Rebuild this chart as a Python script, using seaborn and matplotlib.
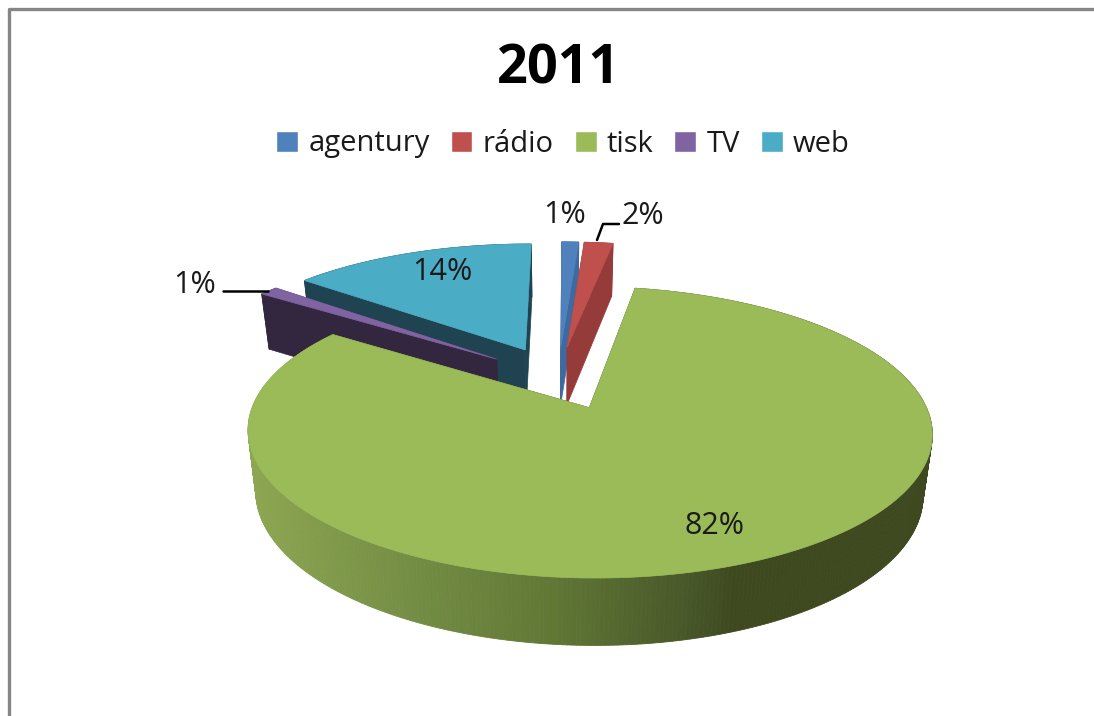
import numpy as np
import seaborn as sns
import matplotlib.pyplot as plt
from matplotlib.patches import Patch

# values
categories = ["agentury", "rádio", "tisk", "TV", "web"]
shares = [1.0, 1.7, 81.8, 1.1, 14.4]
chart_title = "2011"

colors = ["#4F81BD", "#C0504D", "#9BBB59", "#8064A2", "#4BACC6"]
dark_colors = ["#3F6A9F", "#953B39", "#3F4A20", "#33263F", "#1F4350"]

sns.set_theme(style="white")
plt.rcParams["font.family"] = ["Open Sans", "DejaVu Sans"]

# projection of the tilted pie, fitted to the picture (pixels)
CX, CY, RX, RY, PERSP = 558, 377.5, 325, 131.5, 0.163
EXPLODE = 0.24
DEPTH = 59
START = 0.3


def project(u, v, bottom=False):
    w = 1 + PERSP * v
    x = CX + RX * u / w
    y = CY - RY * v / w
    if bottom:
        x = CX + (x - CX) * 0.975
        y = y + DEPTH / w ** 0.6
    return x, y


def rim_color(x):
    # rim shading of the big slice runs left to right
    stops = [250, 400, 550, 690, 735, 930]
    rgb = [(0.55, 0.65, 0.32), (0.46, 0.56, 0.27), (0.38, 0.47, 0.21),
           (0.28, 0.34, 0.16), (0.245, 0.285, 0.125), (0.245, 0.285, 0.125)]
    return tuple(np.interp(x, stops, [c[i] for c in rgb]) for i in range(3))


def draw_slice(ax, a0, a1, top, dark, gradient=False):
    mid = np.radians((a0 + a1) / 2)
    ou, ov = EXPLODE * np.sin(mid), EXPLODE * np.cos(mid)
    t = np.radians(np.linspace(a0, a1, max(4, int((a1 - a0) * 1.5))))
    u = ou + np.sin(t)
    v = ov + np.cos(t)
    xt, yt = project(u, v)
    xb, yb = project(u, v, bottom=True)
    ax_t, ay_t = project(ou, ov)
    ax_b, ay_b = project(ou, ov, bottom=True)

    # the two cut faces
    ax.fill([ax_t, xt[0], xb[0], ax_b], [ay_t, yt[0], yb[0], ay_b], color=dark, lw=0.5)
    ax.fill([ax_t, xt[-1], xb[-1], ax_b], [ay_t, yt[-1], yb[-1], ay_b], color=dark, lw=0.5)

    # outer rim
    for i in range(len(t) - 1):
        c = rim_color((xt[i] + xt[i + 1]) / 2) if gradient else dark
        ax.fill([xt[i], xt[i + 1], xb[i + 1], xb[i]],
                [yt[i], yt[i + 1], yb[i + 1], yb[i]], color=c, lw=0.6)

    # top face
    ax.fill(np.r_[ax_t, xt], np.r_[ay_t, yt], color=top, lw=0.5)


fig = plt.figure(figsize=(10.94, 7.16), dpi=100)
ax = fig.add_axes([0, 0, 1, 1])
ax.set_xlim(0, 1094)
ax.set_ylim(716, 0)
ax.axis("off")

# chart frame
ax.plot([9, 9, 1094], [716, 9, 9], color="#868686", lw=2.4)

# slice angles run clockwise from the top
edges = START + np.r_[0, np.cumsum(shares)] / np.sum(shares) * 360
for i in [4, 3, 0, 1, 2]:
    draw_slice(ax, edges[i], edges[i + 1], colors[i], dark_colors[i], gradient=(i == 2))

# data labels and leader lines
label_pos = [(565, 215), (643, 216), (714, 526), (195, 285), (442, 272)]
for share, (lx, ly) in zip(shares, label_pos):
    ax.text(lx, ly, f"{share:.0f}%", ha="center", va="center", fontsize=22, color="#1a1a1a")
ax.plot([597, 603, 619], [240, 224, 224], color="black", lw=1.8)
ax.plot([223, 268], [291, 291], color="black", lw=1.8)

ax.text(559, 70, chart_title, ha="center", va="center", fontsize=39, fontweight="bold", color="black")

handles = [Patch(facecolor=c, label=n) for c, n in zip(colors, categories)]
ax.legend(handles=handles, loc="center", bbox_to_anchor=(563 / 1094, 1 - 144 / 716),
          ncol=5, frameon=False, fontsize=21, handlelength=0.75, handleheight=0.75,
          handletextpad=0.35, columnspacing=0.72, labelcolor="#1a1a1a")

fig.savefig("out.png", dpi=100)
